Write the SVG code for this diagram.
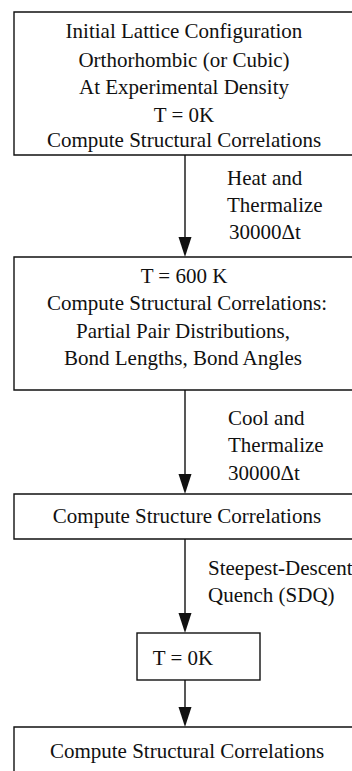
<svg xmlns="http://www.w3.org/2000/svg" width="352" height="771" viewBox="0 0 352 771">
<defs>
<style>
.box{fill:#fff;stroke:#111;stroke-width:1.4}
.t{font-family:'Liberation Serif','Times New Roman',Times,serif;font-size:21px;fill:#111;text-anchor:middle}
.l{font-family:'Liberation Serif','Times New Roman',Times,serif;font-size:21px;fill:#111;text-anchor:start}
.c{stroke:#111;stroke-width:1.4;fill:none}
.h{fill:#111}
</style>
</defs>
<rect width="352" height="771" fill="#fff"/>
<g id="connectors">
<line class="c" x1="185" y1="155" x2="185" y2="237"/>
<path class="h" d="M178.5,237 L191.5,237 L185,257 Z"/>
<line class="c" x1="185" y1="390" x2="185" y2="474"/>
<path class="h" d="M178.5,474 L191.5,474 L185,494 Z"/>
<line class="c" x1="185" y1="539" x2="185" y2="613"/>
<path class="h" d="M178.5,613 L191.5,613 L185,633 Z"/>
<line class="c" x1="185" y1="680" x2="185" y2="707"/>
<path class="h" d="M178.5,707 L191.5,707 L185,727 Z"/>
<text class="l" x="227" y="185">Heat and</text>
<text class="l" x="227" y="212">Thermalize</text>
<text class="l" x="229" y="239">30000Δt</text>
<text class="l" x="228" y="425">Cool and</text>
<text class="l" x="228" y="452">Thermalize</text>
<text class="l" x="228" y="480">30000Δt</text>
<text class="l" x="208" y="575">Steepest-Descent</text>
<text class="l" x="208" y="602">Quench (SDQ)</text>
</g>
<g id="n1">
<path class="box" d="M360,12 H14 V155 H360"/>
<text class="t" x="184" y="38">Initial Lattice Configuration</text>
<text class="t" x="184" y="67">Orthorhombic (or Cubic)</text>
<text class="t" x="184" y="94">At Experimental Density</text>
<text class="t" x="184" y="122">T = 0K</text>
<text class="t" x="184" y="147">Compute Structural Correlations</text>
</g>
<g id="n2">
<path class="box" d="M360,257 H14 V390 H360"/>
<text class="t" x="184" y="283">T = 600 K</text>
<text class="t" x="187" y="310">Compute Structural Correlations:</text>
<text class="t" x="183" y="338">Partial Pair Distributions,</text>
<text class="t" x="183" y="365">Bond Lengths, Bond Angles</text>
</g>
<g id="n3">
<path class="box" d="M360,494 H14 V539 H360"/>
<text class="t" x="187" y="523">Compute Structure Correlations</text>
</g>
<g id="n4">
<rect class="box" x="137" y="633" width="123" height="47"/>
<text class="t" x="183" y="665">T = 0K</text>
</g>
<g id="n5">
<path class="box" d="M360,727 H14 V780"/>
<text class="t" x="187" y="758">Compute Structural Correlations</text>
</g>
</svg>
